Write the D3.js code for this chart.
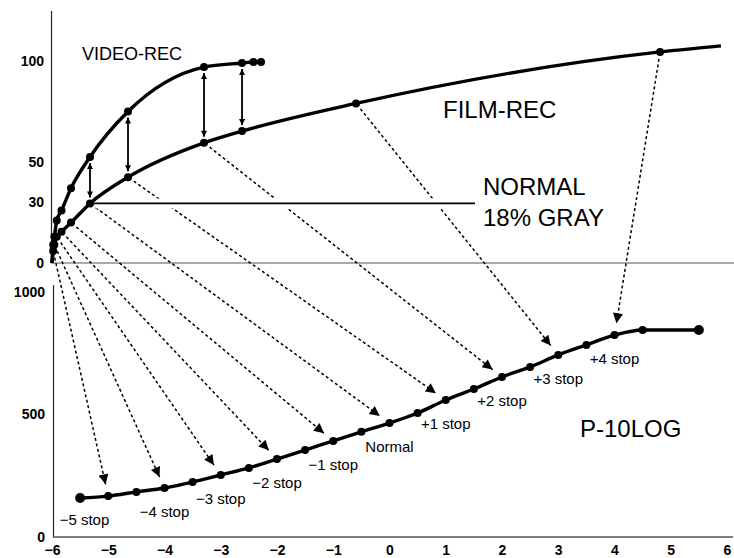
<!DOCTYPE html>
<html>
<head>
<meta charset="utf-8">
<script src="https://cdn.jsdelivr.net/npm/d3@7"></script>
<style>
  html, body { margin: 0; padding: 0; background: #fff; }
  svg { display: block; font-family: "Liberation Sans", Arial, sans-serif; }
</style>
</head>
<body>
<svg id="chart" width="734" height="558"></svg>
<script>
// ---------- data ----------
// Upper panel: relative scene exposure (18% gray = 1) vs. recorded level (%)
const videoExposure = [0, 1/32, 1/16, 1/8, 1/4, 1/2, 1, 2, 4, 5, 5.3, 5.5];
const videoLevel    = [0, 9, 13, 21, 26, 37, 52.5, 75, 97, 99, 99.5, 99.5];
const filmExposure  = [0, 1/32, 1/16, 1/8, 1/4, 1/2, 1, 2, 4, 5, 8, 16, 17.6];
const filmLevel     = [0, 6, 9, 13, 15.5, 20, 29.5, 42.5, 59.5, 65.3, 79, 104.5, 107.5];
const compareExposure = [1, 2, 4, 5];            // double arrows video <-> film
// Lower panel: stops vs. P-10LOG code value
const logStops = [-5.5, -5, -4.5, -4, -3.5, -3, -2.5, -2, -1.5, -1, -0.5, 0, 0.5, 1, 1.5, 2, 2.5, 3, 3.5, 4, 4.5, 5.5];
const logCode  = [159, 167, 184, 200, 224, 253, 282, 318, 355, 392, 429, 465, 506, 559, 604, 653, 694, 743, 784, 824, 845, 845];
const mappedStops = [-5, -4, -3, -2, -1, 0, 1, 2, 3, 4];
const stopLabels  = ["−5 stop", "−4 stop", "−3 stop", "−2 stop", "−1 stop", "Normal", "+1 stop", "+2 stop", "+3 stop", "+4 stop"];
const upperTicks  = [0, 30, 50, 100];
const lowerTicks  = [0, 500, 1000];
const bottomTicks = [-6, -5, -4, -3, -2, -1, 0, 1, 2, 3, 4, 5, 6];

// ---------- scales ----------
const W = 734;
const svg = d3.select("#chart");
const xB = d3.scaleLinear().domain([-6, 6]).range([52, 727]);
const xU = d3.scaleLinear().domain([0, 17.76]).range([52, 727]);
const yU = d3.scaleLinear().domain([0, 125]).range([263, 10.5]);
const yB = d3.scaleLinear().domain([0, 1030]).range([537, 284.6]);

// ---------- markers ----------
const defs = svg.append("defs");
defs.append("marker").attr("id", "arrowBig")
  .attr("viewBox", "0 0 10 10").attr("refX", 10).attr("refY", 5)
  .attr("markerUnits", "userSpaceOnUse").attr("markerWidth", 12).attr("markerHeight", 10)
  .attr("orient", "auto")
  .append("path").attr("d", "M0,0 L10,5 L0,10 Z").attr("fill", "#000");
defs.append("marker").attr("id", "arrowSmall")
  .attr("viewBox", "0 0 10 10").attr("refX", 10).attr("refY", 5)
  .attr("markerUnits", "userSpaceOnUse").attr("markerWidth", 7).attr("markerHeight", 6)
  .attr("orient", "auto-start-reverse")
  .append("path").attr("d", "M0,0 L10,5 L0,10 Z").attr("fill", "#000");

const fmt = d3.format("d");
const styleTicks = g => g.selectAll("text").attr("font-size", 14).attr("font-weight", "bold")
  .attr("fill", "#000").attr("font-family", "'Liberation Sans', Arial, sans-serif");

// ---------- axes ----------
const gUy = svg.append("g").attr("transform", `translate(51,0)`)
  .call(d3.axisLeft(yU).tickValues(upperTicks).tickFormat(fmt).tickSize(0).tickPadding(7).tickSizeOuter(0));
gUy.select(".domain").attr("stroke", "#222").attr("stroke-width", 1.2);
styleTicks(gUy);

svg.append("line").attr("x1", xU(0)).attr("x2", W).attr("y1", yU(0)).attr("y2", yU(0))
  .attr("stroke", "#555").attr("stroke-width", 1.2);

const gBy = svg.append("g").attr("transform", `translate(53,0)`)
  .call(d3.axisLeft(yB).tickValues(lowerTicks).tickFormat(fmt).tickSize(0).tickPadding(8).tickSizeOuter(0));
gBy.select(".domain").attr("stroke", "#222").attr("stroke-width", 1.2);
styleTicks(gBy);

const gBx = svg.append("g").attr("transform", `translate(0,${yB(0)})`)
  .call(d3.axisBottom(xB).tickValues(bottomTicks).tickSize(0).tickPadding(8));
gBx.select(".domain").remove();
styleTicks(gBx);
svg.append("line").attr("x1", 53).attr("x2", W - 1).attr("y1", yB(0)).attr("y2", yB(0))
  .attr("stroke", "#555").attr("stroke-width", 1.6);

// ---------- dashed mapping arrows ----------
const filmAt = e => filmLevel[filmExposure.indexOf(e)];
const codeAt = s => logCode[logStops.indexOf(s)];
const arrows = mappedStops.map(s => {
  const sx = xU(Math.pow(2, s)), sy = yU(filmAt(Math.pow(2, s)));
  const tx = xB(s), ty = yB(codeAt(s));
  const dx = tx - sx, dy = ty - sy, L = Math.hypot(dx, dy);
  const ux = dx / L, uy = dy / L;
  return { x1: sx + ux * 7, y1: sy + uy * 7, x2: tx - ux * 12, y2: ty - uy * 12 };
});
svg.append("g").selectAll("line").data(arrows).join("line")
  .attr("x1", d => d.x1).attr("y1", d => d.y1).attr("x2", d => d.x2).attr("y2", d => d.y2)
  .attr("stroke", "#000").attr("stroke-width", 1.5).attr("stroke-dasharray", "3,2.6")
  .attr("marker-end", "url(#arrowBig)");

// NORMAL 18% gray line (with white halo interrupting the dashed lines)
const normY = yU(filmAt(1));
const normX1 = xU(1), normX2 = 475;
svg.append("line").attr("x1", normX1 + 6).attr("x2", normX2).attr("y1", normY).attr("y2", normY)
  .attr("stroke", "#fff").attr("stroke-width", 10);
svg.append("line").attr("x1", normX1).attr("x2", normX2).attr("y1", normY).attr("y2", normY)
  .attr("stroke", "#000").attr("stroke-width", 1.6);

// ---------- curves ----------
const lineU = d3.line().x(d => xU(d[0])).y(d => yU(d[1])).curve(d3.curveMonotoneX);
const lineB = d3.line().x(d => xB(d[0])).y(d => yB(d[1])).curve(d3.curveMonotoneX);
const videoPts = videoExposure.map((e, i) => [e, videoLevel[i]]);
const filmPts  = filmExposure.map((e, i) => [e, filmLevel[i]]);
const logPts   = logStops.map((s, i) => [s, logCode[i]]);

svg.append("path").attr("d", lineU(videoPts)).attr("fill", "none")
  .attr("stroke", "#000").attr("stroke-width", 3.4);
svg.append("path").attr("d", lineU(filmPts)).attr("fill", "none")
  .attr("stroke", "#000").attr("stroke-width", 3.4);
svg.append("path").attr("d", lineB(logPts)).attr("fill", "none")
  .attr("stroke", "#000").attr("stroke-width", 3.4);

svg.append("g").selectAll("circle").data(videoPts.slice(1)).join("circle")
  .attr("cx", d => xU(d[0])).attr("cy", d => yU(d[1])).attr("r", 4).attr("fill", "#000");
svg.append("g").selectAll("circle").data(filmPts.slice(1, -1)).join("circle")
  .attr("cx", d => xU(d[0])).attr("cy", d => yU(d[1])).attr("r", 4).attr("fill", "#000");
svg.append("g").selectAll("circle").data(logPts).join("circle")
  .attr("cx", d => xB(d[0])).attr("cy", d => yB(d[1]))
  .attr("r", (d, i) => (i === 0 || i === logPts.length - 1) ? 5 : 4).attr("fill", "#000");

// vertical double arrows between video and film
svg.append("g").selectAll("line").data(compareExposure).join("line")
  .attr("x1", e => xU(e)).attr("x2", e => xU(e))
  .attr("y1", e => yU(videoLevel[videoExposure.indexOf(e)]) + 6)
  .attr("y2", e => yU(filmAt(e)) - 6)
  .attr("stroke", "#000").attr("stroke-width", 1.8)
  .attr("marker-start", "url(#arrowSmall)").attr("marker-end", "url(#arrowSmall)");

// ---------- stop labels ----------
svg.append("g").selectAll("text").data(mappedStops).join("text")
  .attr("x", (s, i) => i === 0 ? xB(s) + 1 : xB(s))
  .attr("y", s => yB(codeAt(s)) + 29)
  .attr("text-anchor", (s, i) => i === 0 ? "end" : "middle")
  .attr("font-size", 15).attr("fill", "#000")
  .text((s, i) => stopLabels[i]);

// ---------- titles ----------
svg.append("text").attr("x", 82).attr("y", 60).attr("font-size", 18).text("VIDEO-REC");
svg.append("text").attr("x", 443).attr("y", 118).attr("font-size", 24).text("FILM-REC");
svg.append("text").attr("x", 483).attr("y", 195).attr("font-size", 24).text("NORMAL");
svg.append("text").attr("x", 483).attr("y", 226).attr("font-size", 24).text("18% GRAY");
svg.append("text").attr("x", 580).attr("y", 437).attr("font-size", 24).text("P-10LOG");
</script>
</body>
</html>
